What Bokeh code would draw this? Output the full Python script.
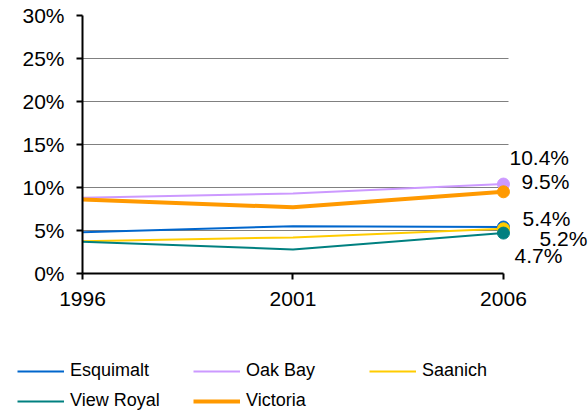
from bokeh.plotting import figure
from bokeh.layouts import column, row
from bokeh.models import Range1d, FixedTicker, PrintfTickFormatter, Legend, LegendItem, ColumnDataSource
from bokeh.core.properties import value
from bokeh.embed import file_html
from bokeh.resources import INLINE

years = [1996, 2001, 2006]
esquimalt = [4.8, 5.5, 5.4]
oak_bay = [8.8, 9.3, 10.4]
saanich = [3.75, 4.2, 5.2]
view_royal = [3.7, 2.8, 4.7]
victoria = [8.6, 7.7, 9.5]
names = ["Esquimalt", "Oak Bay", "Saanich", "View Royal", "Victoria"]
y_ticks = [0, 5, 10, 15, 20, 25, 30]

series = [esquimalt, oak_bay, saanich, view_royal, victoria]
colors = ["#0066CC", "#CC99FF", "#FFCC00", "#008080", "#FF9900"]
widths = [2, 2, 2, 2, 4]

FONT = "Liberation Sans"

p = figure(width=588, height=355, output_backend="svg", toolbar_location=None,
           x_range=Range1d(1996, 2008.02), y_range=Range1d(0, 30),
           min_border_left=82, min_border_right=0, min_border_top=15,
           min_border_bottom=82)
p.outline_line_color = None
p.background_fill_color = "white"
p.border_fill_color = "white"

p.xgrid.visible = False
p.ygrid.grid_line_color = "#808080"
p.ygrid.grid_line_width = 1
p.ygrid.ticker = FixedTicker(ticks=y_ticks)
p.ygrid.cross_bounds = (1996, 2006.12)

p.yaxis.ticker = FixedTicker(ticks=y_ticks)
p.yaxis.formatter = PrintfTickFormatter(format="%d%%")
p.xaxis.ticker = FixedTicker(ticks=years)
p.xaxis.bounds = (1996, 2006)
for ax in (p.xaxis, p.yaxis):
    ax.axis_line_color = "black"
    ax.axis_line_width = 2
    ax.major_tick_line_color = "black"
    ax.major_tick_line_width = 2
    ax.major_tick_in = 0
    ax.major_tick_out = 6
    ax.minor_tick_line_color = None
    ax.major_label_text_font = FONT
    ax.major_label_text_font_size = "21px"
    ax.major_label_text_color = "black"
p.yaxis.major_label_standoff = 12
p.xaxis.major_label_standoff = 12

for name, vals, c, w in zip(names, series, colors, widths):
    p.line(years, vals, line_color=c, line_width=w)

marker_order = [1, 4, 0, 2, 3]
for i in marker_order:
    p.scatter([years[-1]], [series[i][-1]], size=12, fill_color=colors[i], line_color=colors[i])

label_vals = [s[-1] for s in series]
label_text = ["%.1f%%" % v for v in label_vals]
# pixel offsets for each data label (Esquimalt, Oak Bay, Saanich, View Royal, Victoria)
label_dx = [19, 6, 36, 11, 18]
label_dy = [-9, -27, 10, 22, -10]
src = ColumnDataSource(dict(x=[years[-1]] * 5, y=label_vals, t=label_text, dx=label_dx, dy=label_dy))
p.text(x="x", y="y", text="t", x_offset="dx", y_offset="dy", source=src,
       text_font=value(FONT), text_font_size="21px", text_color="black",
       text_baseline="middle", text_align="left")

# legend strip below the chart (series lines kept outside its visible range)
lg = figure(width=588, height=59, output_backend="svg", toolbar_location=None,
            x_range=Range1d(0, 1), y_range=Range1d(0, 1),
            x_axis_location=None, y_axis_location=None,
            min_border=0, min_border_left=0, min_border_right=0,
            min_border_top=0, min_border_bottom=0)
lg.grid.visible = False
lg.outline_line_color = None
lg.background_fill_color = "white"
lg.border_fill_color = "white"
items = []
for name, vals, c, w in zip(names, series, colors, widths):
    r = lg.line(years, vals, line_color=c, line_width=w)
    items.append(LegendItem(label=name, renderers=[r]))

legend = Legend(items=items, ncols=3, location=(17, 0), orientation="horizontal")
legend.label_text_font = FONT
legend.label_text_font_size = "18px"
legend.label_text_color = "black"
legend.glyph_width = 47
legend.glyph_height = 20
legend.label_standoff = 6
legend.label_width = 120
legend.label_height = 27
legend.spacing = 3
legend.padding = 0
legend.margin = 0
legend.border_line_color = None
legend.background_fill_alpha = 0
legend.click_policy = "none"
lg.add_layout(legend, "center")

layout = column(p, row(lg, spacing=0), spacing=0)
open("out.html", "w").write(file_html(layout, INLINE))
